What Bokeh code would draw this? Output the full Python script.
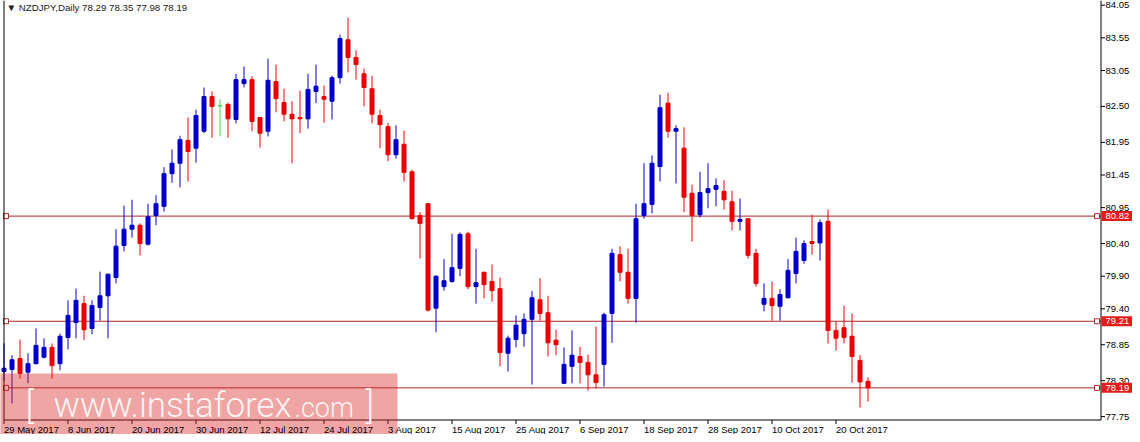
from bokeh.plotting import figure
from bokeh.models import ColumnDataSource, Label
from bokeh.core.properties import value
from bokeh.embed import file_html
from bokeh.resources import INLINE

# ---------------- data ----------------
symbol = "NZDJPY,Daily"
date_ticks = [0, 8, 16, 24, 32, 40, 48, 56, 64, 72, 80, 88, 96, 104]
date_labels = ["29 May 2017", "8 Jun 2017", "20 Jun 2017", "30 Jun 2017",
               "12 Jul 2017", "24 Jul 2017", "3 Aug 2017", "15 Aug 2017",
               "25 Aug 2017", "6 Sep 2017", "18 Sep 2017", "28 Sep 2017",
               "10 Oct 2017", "20 Oct 2017"]
price_ticks = [77.75, 78.30, 78.85, 79.40, 79.90, 80.40, 80.95,
               81.45, 81.95, 82.50, 83.05, 83.55, 84.05]
levels = [80.82, 79.21, 78.19]

opens = [78.44, 78.47, 78.64, 78.43, 78.56, 78.66, 78.81, 78.56, 78.96, 79.19,
         79.48, 79.10, 79.42, 79.60, 79.88, 80.37, 80.62, 80.68, 80.39, 80.83,
         80.97, 81.47, 81.63, 81.98, 81.86, 82.12, 82.65, 82.51, 82.53, 82.30,
         82.85, 82.91, 82.33, 82.12, 82.88, 82.56, 82.38, 82.33, 82.31, 82.73,
         82.65, 82.58, 82.94, 83.52, 83.25, 83.00, 82.77, 82.36, 82.19, 81.76,
         81.92, 81.50, 80.83, 81.01, 79.41, 79.74, 79.82, 80.02, 80.55, 79.74,
         79.96, 79.82, 79.71, 78.72, 78.93, 79.02, 79.24, 79.54, 79.34, 78.92,
         78.26, 78.52, 78.67, 78.58, 78.39, 78.55, 79.33, 80.23, 79.96, 79.56,
         80.83, 81.00, 81.58, 82.55, 82.12, 81.86, 81.17, 80.84, 81.18, 81.23,
         81.20, 81.04, 80.74, 80.78, 80.25, 79.47, 79.56, 79.44, 79.57, 79.94,
         80.14, 80.43, 80.41, 80.74, 79.07, 79.11, 78.98, 78.61, 78.29]
highs = [78.87, 78.69, 78.93, 78.72, 79.10, 78.95, 78.87, 79.02, 79.53, 79.71,
         79.60, 79.53, 79.97, 79.94, 80.62, 80.98, 81.07, 80.71, 81.01, 81.14,
         81.57, 81.84, 82.05, 82.33, 82.45, 82.79, 82.73, 82.61, 82.56, 83.00,
         83.11, 82.96, 82.34, 83.23, 83.14, 82.77, 82.58, 82.74, 83.00, 83.14,
         82.82, 82.97, 83.60, 83.86, 83.36, 83.08, 82.97, 82.45, 82.25, 82.21,
         82.13, 81.53, 80.88, 81.02, 79.91, 80.16, 80.55, 80.57, 80.58, 80.32,
         79.97, 80.08, 79.88, 78.99, 79.30, 79.33, 79.67, 79.87, 79.60, 79.08,
         78.81, 79.07, 78.82, 78.70, 79.13, 79.34, 80.32, 80.36, 80.32, 81.01,
         81.63, 81.75, 82.68, 82.71, 82.21, 82.18, 81.30, 81.50, 81.63, 81.40,
         81.37, 81.21, 81.09, 80.79, 80.32, 79.79, 79.82, 79.70, 80.16, 80.49,
         80.45, 80.84, 80.77, 80.92, 79.21, 79.45, 79.33, 78.69, 78.35]
lows = [78.30, 77.95, 78.33, 78.26, 78.55, 78.64, 78.33, 78.46, 78.78, 78.95,
        78.92, 79.01, 79.22, 78.95, 79.79, 80.28, 80.49, 80.22, 80.37, 80.68,
        80.89, 81.33, 81.26, 81.35, 81.64, 82.09, 82.02, 82.04, 82.02, 82.24,
        82.79, 82.12, 81.87, 82.04, 82.41, 82.27, 81.63, 82.09, 82.16, 82.55,
        82.25, 82.30, 82.85, 83.02, 82.91, 82.50, 82.24, 81.86, 81.66, 81.70,
        81.35, 80.77, 80.17, 79.36, 79.04, 79.68, 79.80, 79.90, 79.70, 79.48,
        79.56, 79.51, 78.52, 78.44, 78.81, 78.82, 78.24, 79.22, 78.67, 78.69,
        78.25, 78.26, 78.26, 78.15, 78.18, 78.21, 78.88, 79.82, 79.48, 79.19,
        80.78, 80.86, 81.35, 82.02, 81.32, 80.88, 80.43, 80.80, 80.94, 80.97,
        80.92, 80.60, 80.60, 80.17, 79.74, 79.36, 79.22, 79.22, 79.56, 79.79,
        80.09, 80.23, 80.14, 78.87, 78.76, 78.87, 78.27, 77.89, 77.98]
closes = [78.49, 78.62, 78.41, 78.56, 78.84, 78.81, 78.53, 78.98, 79.30, 79.53,
          79.08, 79.45, 79.60, 79.93, 80.36, 80.62, 80.68, 80.40, 80.81, 81.01,
          81.47, 81.63, 81.99, 81.81, 82.36, 82.65, 82.50, 82.51, 82.31, 82.91,
          82.91, 82.27, 82.09, 82.90, 82.62, 82.38, 82.31, 82.31, 82.76, 82.81,
          82.61, 82.94, 83.54, 83.25, 83.14, 82.79, 82.38, 82.22, 81.76, 81.99,
          81.49, 80.78, 80.71, 79.38, 79.90, 79.83, 80.03, 80.54, 79.74, 79.80,
          79.77, 79.68, 78.73, 78.95, 79.15, 79.24, 79.57, 79.33, 78.88, 78.85,
          78.55, 78.69, 78.58, 78.39, 78.27, 79.31, 80.25, 79.96, 79.56, 80.78,
          81.01, 81.63, 82.48, 82.12, 82.16, 81.11, 80.83, 81.18, 81.24, 81.29,
          81.07, 80.74, 80.77, 80.22, 79.79, 79.56, 79.45, 79.62, 79.99, 80.28,
          80.40, 80.40, 80.72, 79.07, 78.95, 78.96, 78.67, 78.28, 78.19]

# ---------------- styling / layout ----------------
BULL = "#0000CC"
BEAR = "#EE0000"
DOJI = "#3ED43E"
LEVEL = "#A82828"
TAG = "#E51A1A"
FONT = "Liberation Sans"
FS = "9.5px"

W, H = 1132, 434
BAR_PX = 8.0          # horizontal pixels per daily bar
PRICE_PX = 65.3       # vertical pixels per 1.00 JPY
x0 = -3.5 / BAR_PX
x1 = x0 + W / BAR_PX
y1 = price_ticks[-1] + 4.7 / PRICE_PX
y0 = y1 - H / PRICE_PX

# frame geometry (pixels)
F_LEFT, F_RIGHT, F_BOTTOM = 3.5, 1100.5, 419.5


def rx(px):
    return x0 + px / BAR_PX


def ry(px):
    return y1 - px / PRICE_PX


idx = list(range(len(opens)))
colors = [BULL if c > o else (BEAR if c < o else DOJI) for o, c in zip(opens, closes)]
src = ColumnDataSource(dict(
    x=idx, o=opens, h=highs, l=lows, c=closes,
    top=[max(o, c) for o, c in zip(opens, closes)],
    bottom=[min(o, c) for o, c in zip(opens, closes)],
    color=colors))

p = figure(width=W, height=H, x_range=(x0, x1), y_range=(y0, y1),
           x_axis_type=None, y_axis_type=None,
           toolbar_location=None, output_backend="svg",
           min_border=0, min_border_left=0, min_border_right=0,
           min_border_top=0, min_border_bottom=0)
p.grid.visible = False
p.outline_line_color = None
p.background_fill_color = "white"
p.border_fill_color = "white"

# level lines
n = len(levels)
p.segment(x0=[rx(F_LEFT)] * n, x1=[rx(F_RIGHT)] * n, y0=levels, y1=levels,
          line_color=LEVEL, line_width=1)

# candles
p.segment(x0="x", y0="l", x1="x", y1="h", line_color="color", line_width=1, source=src)
p.vbar(x="x", width=0.5, top="top", bottom="bottom", fill_color="color",
       line_color="color", line_width=1, source=src)

# small squares at the ends of the level lines
p.scatter(x=[rx(5.5)] * n + [rx(1096.5)] * n, y=levels * 2,
          marker="square", size=5, fill_color="white", line_color=LEVEL, line_width=1)

# frame: left, bottom, right
p.segment(x0=[rx(F_LEFT), rx(F_LEFT), rx(F_RIGHT)],
          x1=[rx(F_LEFT), rx(F_RIGHT), rx(F_RIGHT)],
          y0=[y1, ry(F_BOTTOM), y1],
          y1=[ry(F_BOTTOM), ry(F_BOTTOM), ry(F_BOTTOM)],
          line_color="black", line_width=1)

# price ticks
m = len(price_ticks)
p.segment(x0=[rx(F_RIGHT)] * m, x1=[rx(F_RIGHT + 4)] * m, y0=price_ticks, y1=price_ticks,
          line_color="black", line_width=1)
# date ticks
k = len(date_ticks)
p.segment(x0=date_ticks, x1=date_ticks, y0=[ry(F_BOTTOM)] * k, y1=[ry(F_BOTTOM + 4)] * k,
          line_color="black", line_width=1)

# watermark box
p.quad(left=[rx(-2)], right=[rx(397)], top=[ry(373)], bottom=[ry(445)],
       fill_color="#DC2828", fill_alpha=0.42, line_color=None)

# price labels
p.text(x=[rx(1105)] * m, y=price_ticks, text=[f"{t:.2f}" for t in price_ticks],
       text_align="left", text_baseline="middle", text_font=value(FONT),
       text_font_size=value(FS), text_color="black")

# date labels
p.text(x=date_ticks, y=[ry(428.5)] * k, text=date_labels, x_offset=0,
       text_align="left", text_baseline="middle", text_font=value(FONT),
       text_font_size=value(FS), text_color="black")

# price tags of the level lines
p.rect(x=[rx(1118)] * n, y=levels, width=34, height=10, width_units="screen",
       height_units="screen", fill_color=TAG, line_color=None)
p.text(x=[rx(1105)] * n, y=levels, text=[f"{lv:.2f}" for lv in levels],
       text_align="left", text_baseline="middle", text_font=value(FONT),
       text_font_size=value(FS), text_color="white")

# watermark text (middle-anchored so that it stays inside the picture)
WM = "Roboto Light"
for txt, r, yy, size in [("[", 25, 405, "36px"), ("www.instaforex", 53, 405, "35px"),
                         (".com", 294, 407.5, "27px"), ("]", 365, 405, "36px")]:
    p.add_layout(Label(x=rx(r), y=ry(yy), text=txt, text_align="left",
                       text_baseline="middle", text_color="white", text_alpha=0.9,
                       text_font=WM, text_font_size=size))

# header
p.add_layout(Label(x=rx(6), y=ry(6.5),
                   text=f"\u25bc {symbol}  {opens[-1]:.2f} {highs[-1]:.2f} {lows[-1]:.2f} {closes[-1]:.2f}",
                   text_align="left", text_baseline="alphabetic", text_color="#202020",
                   text_font=FONT, text_font_size="9.7px"))

open("out.html", "w").write(file_html(p, INLINE))
